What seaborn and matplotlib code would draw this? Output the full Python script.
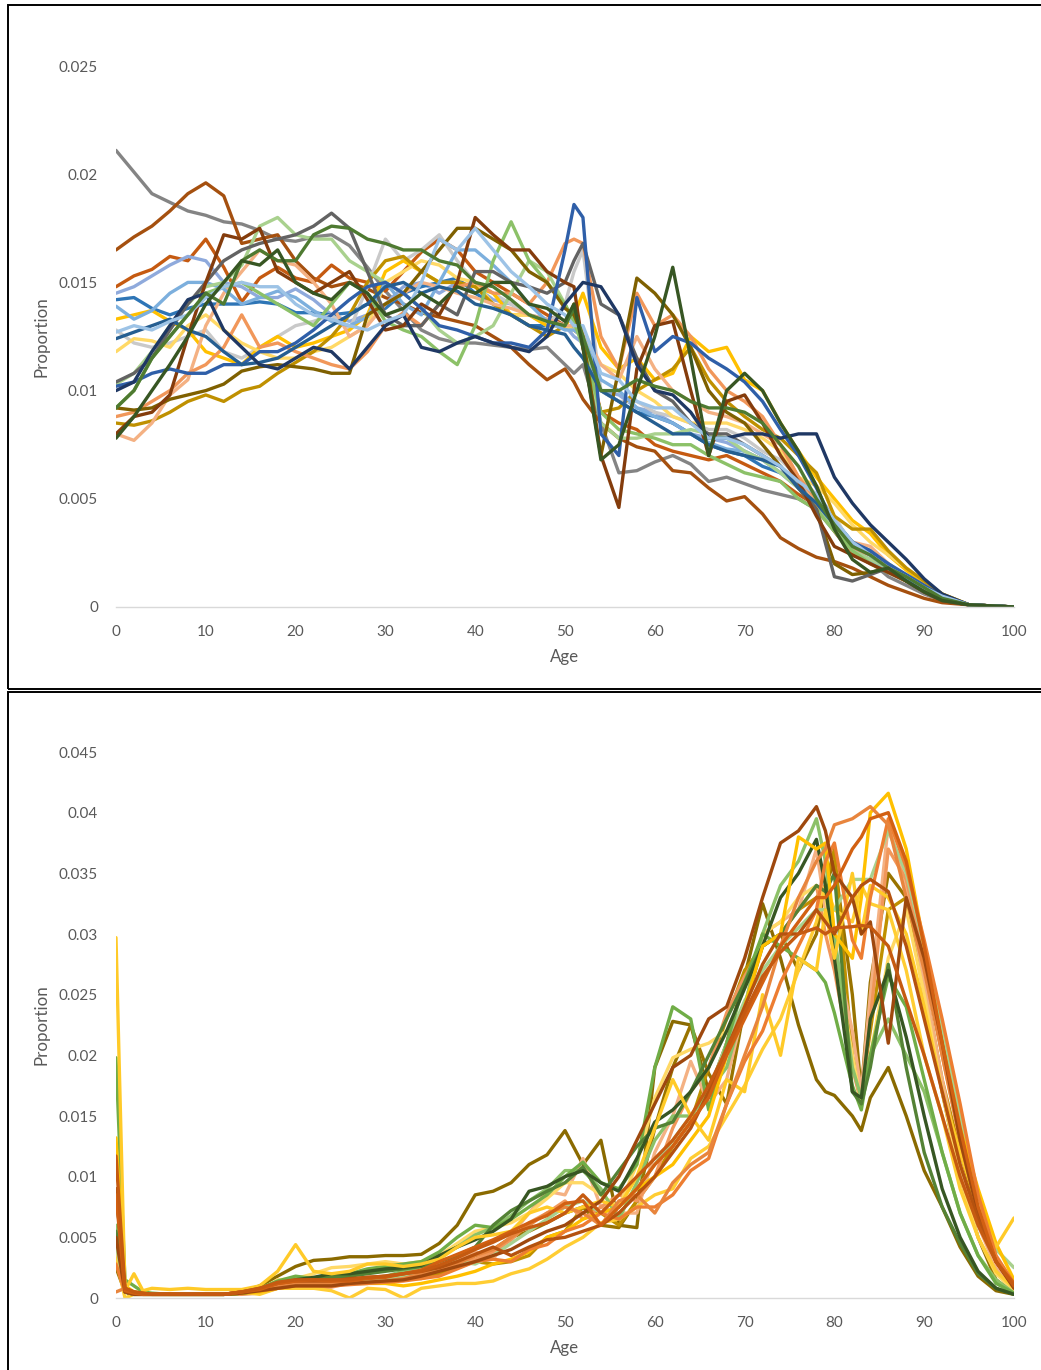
import pandas as pd
import matplotlib
matplotlib.use('Agg')
import matplotlib.pyplot as plt
from matplotlib.patches import Rectangle
import seaborn as sns

# ── DATA, in units of 1/10000 ─────────────────────────────────────────
AGES_TOP = [0,2,4,6,8,10,12,14,16,18, 20,22,24,26,28,30,32,34,36,38,
            40,42,44,46,48,50,51,52,54,56, 58,60,62,64,66,68,70,72,74,76,
            78,80,82,84,86,88,90,92,95,100]

t_gray   = [211,201,191,187,183,181,178,177,174,170, 169,171,172,167,157,146,137,128,124,122,
            122,121,120,119,120,112,108,112,85,62, 63,67,70,66,58,60,57,54,52,50,
            45,35,24,21,14,10,6,3,1,0]
t_rust   = [165,171,176,183,191,196,190,168,170,172, 160,152,148,150,147,143,140,136,134,132,
            130,125,120,112,105,110,104,96,85,78, 74,72,63,62,55,49,51,43,32,27,
            23,21,18,14,10,7,4,2,1,0]
t_orange = [148,153,156,162,160,170,157,141,152,157, 152,150,158,152,150,146,155,164,170,165,
            155,150,145,140,135,130,128,125,90,85, 82,75,72,70,68,70,66,62,58,52,
            47,35,25,20,16,12,8,4,1,0]
t_peri   = [145,148,153,158,162,160,150,148,143,143, 147,142,135,132,135,140,148,150,145,150,
            148,142,140,135,133,130,125,122,100,98, 92,90,85,80,78,76,72,68,62,55,
            50,40,30,24,18,13,9,5,1,0]
t_blue   = [142,143,138,135,138,140,140,140,141,140, 136,136,135,136,140,138,145,148,150,152,
            145,140,135,130,130,130,128,125,100,95, 90,88,85,80,75,72,70,65,62,56,
            50,40,30,26,20,14,9,5,1,0]
t_silver = [128,122,120,122,125,128,118,115,120,125, 130,132,135,128,148,170,160,165,172,160,
            150,145,140,135,130,140,155,165,100,95, 95,90,88,85,82,82,78,72,68,60,
            52,42,28,24,18,13,9,5,1,0]
t_gold   = [133,135,137,132,128,118,115,112,120,125, 120,122,125,128,135,155,160,155,150,150,
            148,145,135,135,130,130,135,145,120,110, 115,105,108,125,118,120,105,100,85,72,
            60,50,40,34,24,17,11,6,1,0]
t_pale   = [118,124,123,120,130,135,128,122,118,115, 115,118,120,125,130,150,155,160,158,152,
            150,140,135,135,132,130,128,125,112,108, 100,95,88,85,85,85,82,78,72,60,
            56,48,38,30,24,18,12,6,1,0]
t_gdark  = [85,84,86,90,95,98,95,100,102,108, 113,118,125,135,150,160,162,155,150,150,
            148,140,135,130,125,130,140,120,90,92, 100,105,110,120,105,95,88,82,78,70,
            62,42,36,36,26,18,12,6,1,0]
t_peach  = [80,77,85,98,105,130,145,155,165,160, 158,150,140,125,130,140,145,150,148,145,
            143,140,138,135,133,130,130,128,112,105, 125,110,100,95,90,88,85,80,75,60,
            48,38,30,28,20,14,9,5,1,0]
t_salmon = [88,90,95,100,108,112,120,135,120,122, 118,115,112,110,118,130,136,130,140,148,
            150,145,145,140,150,168,170,168,125,110, 145,130,135,125,110,100,95,88,75,60,
            50,36,27,24,18,13,8,4,1,0]
t_sky    = [139,133,137,145,150,150,147,140,143,146, 143,137,132,130,134,150,140,135,150,165,
            165,158,150,140,132,128,128,125,105,100, 92,88,85,80,76,73,72,68,62,55,
            45,36,26,22,17,13,9,5,1,0]
t_lgreen = [103,108,118,130,140,148,150,158,176,180, 172,170,170,160,155,150,145,138,128,122,
            125,130,145,160,155,140,130,125,85,78, 78,80,80,82,80,78,72,68,62,55,
            48,36,26,22,18,13,8,4,1,0]
t_green  = [92,100,115,125,135,145,148,150,145,140, 135,130,140,150,145,132,128,125,118,112,
            130,160,178,160,150,140,132,120,90,82, 80,78,75,75,70,66,62,60,58,50,
            45,35,26,20,16,12,8,4,1,0]
t_olive  = [92,91,92,96,98,100,103,109,111,112, 111,110,108,108,135,140,145,155,165,175,
            175,170,165,155,150,138,135,125,70,110, 152,145,135,120,100,90,85,75,65,55,
            45,20,15,16,18,12,7,3,1,0]
t_dgray  = [104,108,115,128,140,150,160,165,168,170, 172,176,182,175,155,135,130,130,140,135,
            155,155,150,148,145,150,160,168,140,135, 115,100,95,85,80,80,75,70,65,55,
            45,14,12,15,18,12,7,3,1,0]
t_brown  = [80,88,90,98,125,150,172,170,175,155, 150,145,150,155,142,128,130,140,135,150,
            180,172,165,165,155,150,148,120,70,46, 110,130,132,100,70,95,98,85,70,58,
            42,28,24,20,16,12,7,3,1,0]
t_dblue  = [102,104,108,110,108,108,112,112,118,118, 122,128,135,142,148,150,145,138,130,128,
            125,122,122,120,128,165,186,180,80,70, 143,118,125,122,115,110,104,95,82,70,
            55,38,30,26,20,15,10,5,1,0]
t_navy2  = [124,127,130,133,128,125,118,112,113,115, 120,125,130,135,140,148,150,145,148,146,
            140,138,135,130,128,126,120,115,100,95, 90,85,80,80,75,72,70,68,65,55,
            48,38,30,24,18,13,9,5,1,0]
t_navy   = [100,104,118,130,142,145,128,120,112,110, 115,120,118,110,120,130,135,120,118,122,
            125,122,120,118,125,140,145,150,148,135, 112,100,98,90,78,78,80,80,78,80,
            80,60,48,38,30,22,13,6,1,0]
t_light  = [127,130,128,132,135,143,148,150,148,148, 140,135,133,130,128,132,135,150,170,165,
            175,165,155,148,140,135,130,130,108,105, 95,92,92,85,78,78,75,70,65,58,
            52,40,30,24,18,14,9,5,1,0]
t_forest = [92,100,115,125,135,145,140,160,165,160, 160,172,176,175,170,168,165,165,160,158,
            150,148,142,135,132,130,138,125,100,100, 105,102,100,95,92,92,90,85,75,65,
            50,38,28,24,18,14,9,4,1,0]
t_dgreen = [78,88,100,112,125,140,150,160,158,165, 150,145,142,150,145,135,138,145,140,148,
            145,150,150,140,138,132,140,120,68,75, 100,125,157,115,70,100,108,100,85,72,
            56,36,22,16,18,12,7,3,1,0]

AGES_BOT = [0,1,2,3,4,6,8,10,12,14, 16,18,20,22,24,26,28,30,32,34,
            36,38,40,42,44,46,48,50,52,54, 56,58,60,62,64,66,68,70,72,74,
            76,78,79,80,82,83,84,86,88,90, 92,94,96,98,100]

b_olive  = [30,5,3,3,3,3,3,3,3,5, 10,18,26,31,32,34,34,35,35,36,
            45,60,85,88,95,110,118,138,110,130, 60,58,190,228,225,170,210,265,325,280,
            225,180,170,167,150,138,165,190,150,105, 75,42,18,6,3]
b_olive2 = [25,5,3,3,3,3,3,3,3,4, 6,10,12,12,13,14,14,15,16,18,
            22,28,35,40,50,55,62,70,75,60, 58,80,140,190,225,185,160,240,290,300,
            270,300,340,360,250,170,260,350,330,250, 170,100,50,15,4]
b_gdark  = [32,5,3,3,3,3,3,3,3,4, 6,10,12,12,12,12,12,15,16,16,
            20,25,30,28,30,35,50,55,75,70, 60,80,100,125,145,190,230,270,290,300,
            320,330,340,370,200,170,220,320,330,260, 180,120,70,30,10]
b_peach  = [40,8,5,3,3,3,3,3,3,5, 6,10,13,13,12,14,15,16,22,24,
            28,30,38,32,52,70,88,85,115,75, 70,70,120,150,195,160,180,240,300,310,
            320,370,320,290,220,170,250,390,340,260, 180,110,60,25,6]
b_salmon = [30,6,4,3,3,3,3,3,3,3, 4,8,8,8,9,12,14,16,18,20,
            24,28,32,38,48,62,70,80,65,75, 85,80,100,140,170,190,235,265,290,300,
            320,340,300,270,190,160,230,370,345,280, 200,130,75,32,10]
b_pale   = [35,8,4,3,3,3,3,3,3,4, 6,15,16,20,25,26,28,30,28,30,
            35,45,55,58,62,70,82,95,95,85, 75,110,165,198,205,210,220,240,300,310,
            330,340,330,290,200,160,200,280,320,250, 170,100,50,20,6]
b_yellow = [33,0,3,3,3,3,3,3,3,5, 3,8,8,8,6,0,8,7,0,8,
            10,12,12,14,20,24,32,42,50,62, 65,75,85,90,115,125,150,175,205,230,
            270,310,340,320,310,340,325,320,270,200, 150,90,50,22,8]
b_lgreen = [45,6,4,3,3,3,3,3,3,4, 6,10,12,12,12,14,14,16,18,20,
            26,30,28,35,45,55,65,75,80,70, 75,90,110,130,150,170,210,245,270,290,
            305,320,320,320,345,345,345,385,350,290, 220,150,85,40,25]
b_green  = [60,6,4,3,3,3,3,3,3,4, 6,10,12,14,15,15,16,18,22,26,
            34,42,52,58,68,80,90,105,105,90, 65,95,130,150,150,170,190,240,300,340,
            360,395,360,300,190,165,200,230,200,170, 120,70,35,15,4]
b_fern   = [198,15,10,5,4,3,3,3,3,4, 8,14,18,16,18,20,24,26,28,30,
            38,50,60,58,65,75,85,100,112,95, 90,110,190,240,230,155,210,260,300,290,
            280,270,260,235,175,155,200,265,240,180, 120,70,35,12,4]
b_moss   = [55,5,3,3,3,3,3,3,3,4, 6,10,14,15,17,18,20,22,24,26,
            30,35,42,60,72,80,88,95,108,85, 105,125,140,145,170,200,230,260,290,300,
            320,340,335,350,170,160,190,275,190,120, 75,45,20,8,3]
b_forest = [90,5,3,3,3,3,3,3,3,4, 6,12,15,17,20,20,22,24,25,27,
            35,42,48,55,65,88,92,100,105,95, 88,115,145,155,170,190,220,255,290,330,
            350,378,340,280,170,165,230,270,215,150, 90,50,22,8,3]
b_gold   = [132,10,5,4,3,3,3,3,3,4, 5,8,10,12,12,12,12,12,10,12,
            15,18,22,28,32,38,50,55,65,70, 75,90,100,110,130,150,200,240,290,300,
            380,370,375,300,280,330,400,416,370,290, 210,140,90,45,15]
b_sun    = [297,6,20,6,8,7,8,7,7,7, 10,22,44,22,20,22,28,28,26,28,
            32,42,50,52,55,70,75,70,75,80, 75,100,140,180,150,130,180,170,250,200,
            280,270,320,280,350,300,340,330,300,240, 170,120,75,42,66]
b_orange = [28,5,3,3,3,3,3,3,3,5, 6,8,10,10,10,11,12,13,14,16,
            18,24,30,32,30,40,44,55,60,70, 65,75,75,85,105,115,160,195,220,260,
            290,320,360,375,295,280,330,395,355,295, 230,160,85,35,12]
b_orange2= [5,8,3,3,3,3,3,3,3,5, 7,10,12,12,12,12,13,14,16,20,
            22,28,35,40,50,60,70,75,70,60, 80,85,70,95,110,120,160,200,240,290,
            330,360,370,390,395,400,405,390,330,270, 200,130,70,30,10]
b_brown  = [50,5,3,3,3,3,3,3,3,4, 6,8,10,10,10,12,13,14,15,18,
            22,26,30,35,40,48,55,60,70,80, 100,130,160,190,200,230,240,280,330,375,
            385,405,385,350,330,300,310,210,330,280, 210,130,70,30,8]
b_rust   = [90,8,5,4,3,3,3,3,3,5, 8,12,14,14,14,16,17,18,20,22,
            25,30,36,42,35,42,48,50,55,60, 70,85,100,120,140,170,205,240,275,300,
            300,320,310,300,330,340,345,335,290,230, 170,110,65,30,10]
b_burnt  = [85,6,4,3,3,3,3,3,3,5, 7,12,14,15,14,14,16,17,20,23,
            30,36,42,48,55,62,68,78,80,60, 75,90,110,125,145,165,200,230,260,290,
            310,330,330,340,370,380,395,400,360,290, 210,140,75,30,12]
b_ember  = [117,8,5,4,3,3,3,3,3,5, 8,13,15,15,15,15,17,18,20,22,
            27,33,40,46,53,58,62,70,85,70, 85,100,115,130,150,175,205,235,265,285,
            300,305,300,305,306,307,306,290,245,200, 150,100,60,30,10]

TOP_NAMES = ['gray','rust','orange','peri','blue','silver','gold','pale','gdark','peach','salmon','sky',
             'lgreen','green','olive','dgray','brown','dblue','navy2','navy','light','forest','dgreen']
TOP_VALUES = [t_gray,t_rust,t_orange,t_peri,t_blue,t_silver,t_gold,t_pale,t_gdark,t_peach,t_salmon,t_sky,
              t_lgreen,t_green,t_olive,t_dgray,t_brown,t_dblue,t_navy2,t_navy,t_light,t_forest,t_dgreen]
TOP_COLORS = ['#848484','#A5500F','#C55A11','#8FAADC','#2E75B6','#C9C9C9','#FFC000','#FFD966','#BF9000','#F4B183','#F1975A','#7CAFDD',
              '#A9D18E','#8CC168','#7F6000','#636363','#843C0C','#2F5FA8','#255E91','#1F3864','#9DC3E6','#4E7A31','#375623']

BOT_NAMES = ['olive','olive2','gdark','peach','salmon','pale','yellow','lgreen','green','fern','moss','forest',
             'gold','sun','orange','orange2','brown','rust','burnt','ember']
BOT_VALUES = [b_olive,b_olive2,b_gdark,b_peach,b_salmon,b_pale,b_yellow,b_lgreen,b_green,b_fern,b_moss,b_forest,
              b_gold,b_sun,b_orange,b_orange2,b_brown,b_rust,b_burnt,b_ember]
BOT_COLORS = ['#8A6A00','#997300','#BF9000','#F4B183','#F1975A','#FFD966','#FFCD33','#A9D18E','#8CC168','#70AD47','#548235','#375623',
              '#FFC000','#FFCA28','#ED7D31','#E8853D','#9E480E','#B5520F','#D26012','#C55A11']

X_TICKS = [0,10,20,30,40,50,60,70,80,90,100]
TOP_YTICKS = [0,0.005,0.01,0.015,0.02,0.025]
TOP_YLABELS = ['0','0.005','0.01','0.015','0.02','0.025']
BOT_YTICKS = [0,0.005,0.01,0.015,0.02,0.025,0.03,0.035,0.04,0.045]
BOT_YLABELS = ['0','0.005','0.01','0.015','0.02','0.025','0.03','0.035','0.04','0.045']

# ── PLOT STYLE ────────────────────────────────────────────────────────
sns.set_theme(style='white')
plt.rcParams['font.family'] = ['Lato', 'DejaVu Sans']
W, H = 1041, 1370
TEXT = '#595959'
TICK_FS = 11
LABEL_FS = 12.2

def long_table(ages, names, values):
    rows = []
    for name, vals in zip(names, values):
        rows.append(pd.DataFrame({'age': ages, 'proportion': [v / 10000 for v in vals], 'series': name}))
    return pd.concat(rows)

def panel(fig, top, bottom, ages, names, values, colors, yticks, ylabels, lw):
    ax = fig.add_axes([116/W, 1 - bottom/H, 898/W, (bottom - top)/H])
    sns.lineplot(data=long_table(ages, names, values), x='age', y='proportion', hue='series',
                 hue_order=names, palette=colors, estimator=None, linewidth=lw, legend=False, ax=ax)
    ax.set_xlim(0, 100)
    ax.set_ylim(yticks[0], yticks[-1])
    ax.set_xticks(X_TICKS)
    ax.set_yticks(yticks, ylabels)
    ax.tick_params(length=0, labelsize=TICK_FS, labelcolor=TEXT)
    ax.tick_params(axis='y', pad=13)
    ax.tick_params(axis='x', pad=13)
    ax.set_xlabel('Age', fontsize=LABEL_FS, color=TEXT, labelpad=7)
    ax.set_ylabel('Proportion', fontsize=LABEL_FS, color=TEXT, labelpad=7)
    sns.despine(ax=ax, left=True)
    ax.spines['bottom'].set_color('#D9D9D9')
    ax.spines['bottom'].set_linewidth(1)
    ax.patch.set_alpha(0)
    return ax

fig = plt.figure(figsize=(W/100, H/100), dpi=100, facecolor='white')
panel(fig, 66, 607, AGES_TOP, TOP_NAMES, TOP_VALUES, TOP_COLORS, TOP_YTICKS, TOP_YLABELS, 2.4)
panel(fig, 752, 1298, AGES_BOT, BOT_NAMES, BOT_VALUES, BOT_COLORS, BOT_YTICKS, BOT_YLABELS, 2.4)

# black frames round the two panels, running off the page on the right and below
for y0, y1 in [(5, 689), (692, 1380)]:
    fig.add_artist(Rectangle((8/W, 1 - y1/H), 1.1, (y1 - y0)/H, transform=fig.transFigure,
                             fill=False, edgecolor='black', linewidth=1.4))

fig.savefig('out.png', dpi=100)
